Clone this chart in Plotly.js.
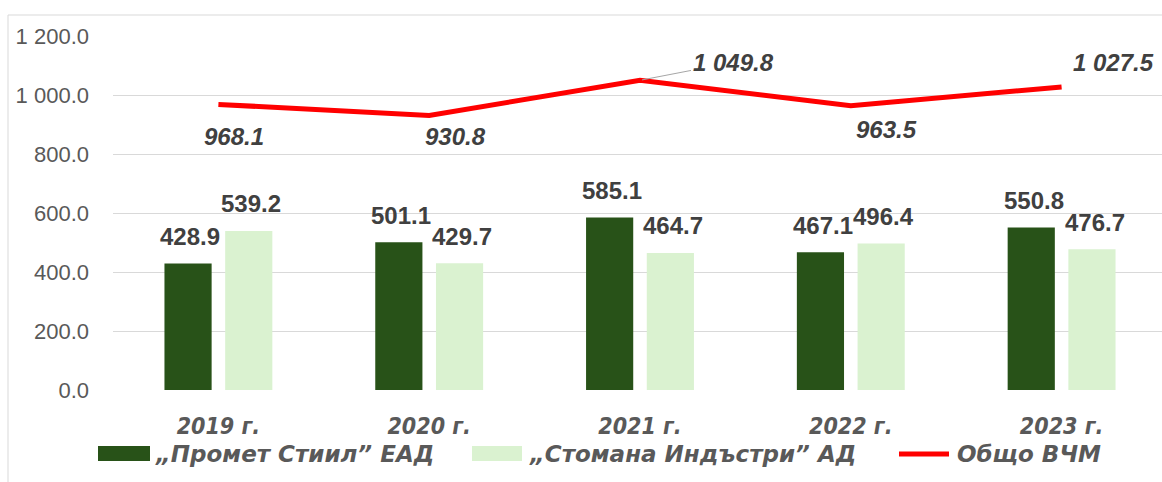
<!DOCTYPE html>
<html>
<head>
<meta charset="utf-8">
<script src="https://cdn.plot.ly/plotly-3.0.1.min.js"></script>
<style>html,body{margin:0;padding:0;background:#fff;overflow:hidden;}#chart{width:1167px;height:482px;}</style>
</head>
<body>
<div id="chart"></div>
<script>
// ---- data ----
const categories = ['2019 г.', '2020 г.', '2021 г.', '2022 г.', '2023 г.'];
const prometStiil = [428.9, 501.1, 585.1, 467.1, 550.8];
const stomanaIndustri = [539.2, 429.7, 464.7, 496.4, 476.7];
const totalVCM = [968.1, 930.8, 1049.8, 963.5, 1027.5];
const seriesNames = ['„Промет Стиил” ЕАД', '„Стомана Индъстри” АД', 'Общо ВЧМ'];

// ---- styles ----
const darkGreen = '#285218';
const lightGreen = '#DAF2D0';
const red = '#FF0000';
const W = 1167, H = 482;
const M = {l: 113, r: 0, t: 36, b: 92};
const plotW = W - M.l - M.r, plotH = H - M.t - M.b;
const px = x => (x - M.l) / plotW;
const py = y => (H - M.b - y) / plotH;

const condFont = 'DejaVu Sans Condensed, Liberation Sans Narrow, sans-serif';
const wideFont = 'DejaVu Sans, sans-serif';

function fmt(v) {
  const s = v.toFixed(1);
  const [i, d] = s.split('.');
  return i.replace(/\B(?=(\d{3})+(?!\d))/g, ' ') + '.' + d;
}

const traces = [
  {type: 'bar', x: categories, y: prometStiil, name: seriesNames[0],
   marker: {color: darkGreen}, hoverinfo: 'skip'},
  {type: 'bar', x: categories, y: stomanaIndustri, name: seriesNames[1],
   marker: {color: lightGreen}, hoverinfo: 'skip'},
  {type: 'scatter', mode: 'lines', x: categories, y: totalVCM, name: seriesNames[2],
   line: {color: red, width: 5}, hoverinfo: 'skip'}
];

const annotations = [];
const barFont = {family: 'Liberation Sans, Arial, sans-serif', size: 24, color: '#404040'};
categories.forEach((c, i) => {
  annotations.push({x: c, y: prometStiil[i], text: '<b>' + fmt(prometStiil[i]) + '</b>',
    showarrow: false, xanchor: 'center', yanchor: 'middle', xshift: -28, yshift: 27, font: barFont});
  annotations.push({x: c, y: stomanaIndustri[i], text: '<b>' + fmt(stomanaIndustri[i]) + '</b>',
    showarrow: false, xanchor: 'center', yanchor: 'middle', xshift: 33, yshift: 27, font: barFont});
});

// line label offsets (pixels)
const lineLabelOffsets = [[16, -32], [26, -21], [93, 18], [36, -24], [52, 24]];
const lineFont = {family: 'Liberation Sans, Arial, sans-serif', size: 24, color: '#404040'};
categories.forEach((c, i) => {
  const [dx, dy] = lineLabelOffsets[i];
  const t = '<b><i>' + fmt(totalVCM[i]) + '</i></b>';
  if (i === 2) {
    annotations.push({x: c, y: totalVCM[i], text: t, showarrow: true, arrowhead: 0,
      arrowwidth: 1, arrowcolor: '#A6A6A6', ax: dx, ay: -dy, standoff: 2,
      xanchor: 'center', yanchor: 'middle', font: lineFont});
  } else {
    annotations.push({x: c, y: totalVCM[i], text: t, showarrow: false,
      xanchor: 'center', yanchor: 'middle', xshift: dx, yshift: dy, font: lineFont});
  }
});

// custom legend
const legFont = {family: wideFont, size: 23, color: '#595959'};
const shapes = [
  {type: 'rect', xref: 'paper', yref: 'paper', x0: px(8), x1: 1.05, y0: -0.5, y1: py(15),
   line: {color: '#D9D9D9', width: 1}, fillcolor: 'rgba(0,0,0,0)', layer: 'below'},
  {type: 'rect', xref: 'paper', yref: 'paper', x0: px(98), x1: px(150), y0: py(461), y1: py(446),
   line: {width: 0}, fillcolor: darkGreen},
  {type: 'rect', xref: 'paper', yref: 'paper', x0: px(472), x1: px(522), y0: py(461), y1: py(446),
   line: {width: 0}, fillcolor: lightGreen},
  {type: 'line', xref: 'paper', yref: 'paper', x0: px(899), x1: px(949), y0: py(454), y1: py(454),
   line: {color: red, width: 5}}
];
const legendX = [153, 527, 955];
seriesNames.forEach((n, i) => {
  annotations.push({xref: 'paper', yref: 'paper', x: px(legendX[i]), y: py(454),
    text: '<b><i>' + n + '</i></b>', showarrow: false, xanchor: 'left', yanchor: 'middle', font: legFont});
});

const layout = {
  width: W, height: H,
  margin: M,
  paper_bgcolor: '#FFFFFF', plot_bgcolor: '#FFFFFF',
  showlegend: false,
  barmode: 'group', bargap: 0.424, bargroupgap: 0.223,
  separators: '. ',
  xaxis: {type: 'category', showgrid: false, zeroline: false, showline: false, ticks: '',
    ticklabelstandoff: 20,
    tickfont: {family: condFont, size: 23, color: '#595959', weight: 'bold', style: 'italic'}},
  yaxis: {range: [0, 1200], dtick: 200, tickformat: ',.1f', showgrid: true, gridcolor: '#D9D9D9',
    gridwidth: 1, zeroline: false, showline: false, ticks: '', ticklabelstandoff: 23,
    tickfont: {family: 'Liberation Sans, Arial, sans-serif', size: 22, color: '#595959'}},
  annotations: annotations,
  shapes: shapes
};

Plotly.newPlot('chart', traces, layout, {displayModeBar: false, staticPlot: true});
</script>
</body>
</html>
